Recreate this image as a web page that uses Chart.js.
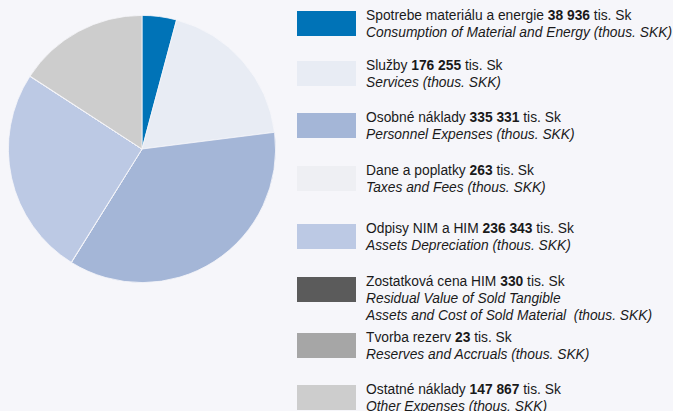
<!DOCTYPE html>
<html>
<head>
<meta charset="utf-8">
<script src="https://cdn.jsdelivr.net/npm/chart.js@4/dist/chart.umd.min.js"></script>
<style>
  html, body { margin: 0; padding: 0; }
  body {
    width: 673px; height: 411px; overflow: hidden;
    background: #f6f6fa;
    font-family: "Liberation Sans", Arial, Helvetica, sans-serif;
    position: relative;
  }
  #pieBox { position: absolute; left: 8px; top: 15px; width: 268px; height: 268px; }
  .item { position: absolute; left: 297px; }
  .swatch { position: absolute; left: 0; top: 0; width: 59px; height: 25px; }
  .txt {
    position: absolute; left: 69px; top: -4px; white-space: nowrap;
    font-size: 13.8px; line-height: 17px; color: #1a1a1a;
  }
  .txt b { font-weight: bold; }
  .txt i { font-style: italic; }
</style>
</head>
<body>
<div id="pieBox"><canvas id="pie"></canvas></div>
<div id="legend"></div>
<script>
// ==============================
// DATOS
// ==============================
const nazvy = [
    'Spotrebe materiálu a energie',
    'Služby',
    'Osobné náklady',
    'Dane a poplatky',
    'Odpisy NIM a HIM',
    'Zostatková cena HIM',
    'Tvorba rezerv',
    'Ostatné náklady'
];

const popisyEN = [
    ['Consumption of Material and Energy (thous. SKK)'],
    ['Services (thous. SKK)'],
    ['Personnel Expenses (thous. SKK)'],
    ['Taxes and Fees (thous. SKK)'],
    ['Assets Depreciation (thous. SKK)'],
    ['Residual Value of Sold Tangible', 'Assets and Cost of Sold Material&nbsp; (thous. SKK)'],
    ['Reserves and Accruals (thous. SKK)'],
    ['Other Expenses (thous. SKK)']
];

const hodnoty = [38936, 176255, 335331, 263, 236343, 330, 23, 147867];

const farby = [
    '#0073b7', '#e8ecf4', '#a4b6d7', '#eeeff3',
    '#bcc9e4', '#5b5b5b', '#a6a6a6', '#cdcdcd'
];

// posicion vertical de cada fila de la leyenda
const filasY = [11, 61, 113, 166, 224, 277, 333, 385];

function formato(n) {
    return String(n).replace(/\B(?=(\d{3})+(?!\d))/g, ' ');
}

// ==============================
// LEYENDA
// ==============================
const leyenda = document.getElementById('legend');

nazvy.forEach((nazov, i) => {
    const item = document.createElement('div');
    item.className = 'item';
    item.style.top = filasY[i] + 'px';

    const sw = document.createElement('div');
    sw.className = 'swatch';
    sw.style.background = farby[i];
    item.appendChild(sw);

    const t = document.createElement('div');
    t.className = 'txt';
    t.innerHTML = nazov + ' <b>' + formato(hodnoty[i]) + '</b> tis. Sk' +
        popisyEN[i].map(r => '<br><i>' + r + '</i>').join('');
    item.appendChild(t);

    leyenda.appendChild(item);
});

// ==============================
// GRAFICA
// ==============================
new Chart(document.getElementById('pie'), {
    type: 'pie',
    data: {
        labels: nazvy,
        datasets: [{
            data: hodnoty,
            backgroundColor: farby,
            borderColor: '#f6f6fa',
            borderWidth: 0.8
        }]
    },
    options: {
        responsive: true,
        maintainAspectRatio: false,
        animation: false,
        layout: { padding: 0 },
        plugins: {
            legend: { display: false },
            tooltip: { enabled: false }
        }
    }
});
</script>
</body>
</html>
